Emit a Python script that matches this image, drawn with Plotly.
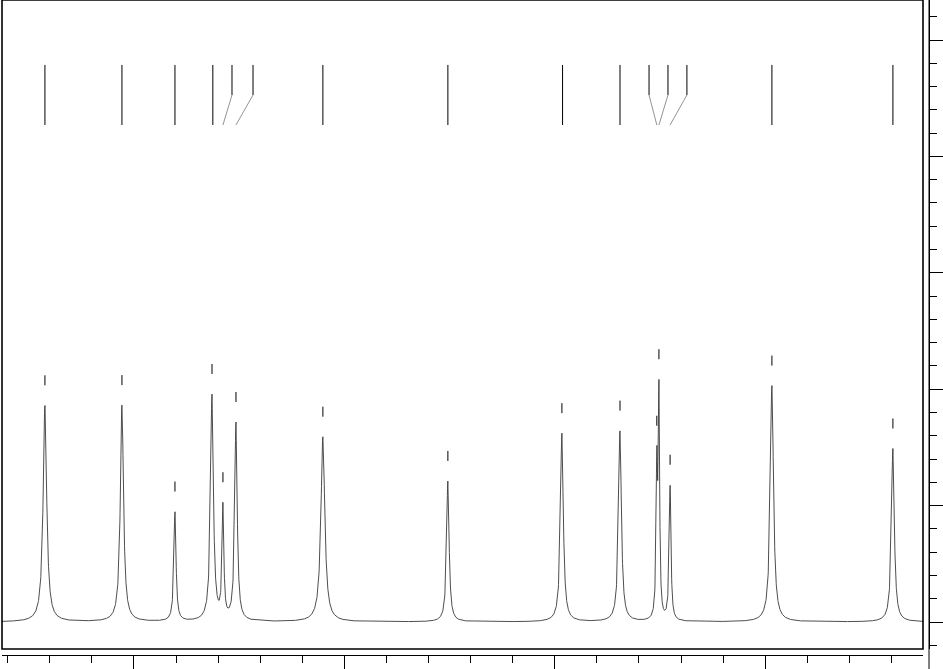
import numpy as np
import plotly.graph_objects as go

# peak positions (ppm), heights (arb. units above baseline) and half-widths (ppm)
peak_ppm = [4.423, 4.057, 3.805, 3.629, 3.577, 3.515, 3.102, 2.508,
            1.966, 1.690, 1.515, 1.505, 1.452, 0.968, 0.393]
peak_height = [9.3, 9.3, 4.7, 9.7, 4.8, 8.5, 7.95, 6.05,
               8.1, 8.2, 6.2, 9.5, 5.8, 10.15, 7.45]
peak_hwhm = [0.010, 0.009, 0.006, 0.008, 0.005, 0.007, 0.011, 0.007,
             0.008, 0.008, 0.004, 0.004, 0.005, 0.009, 0.008]

# label marker positions at the top (ppm) and the peak each points to
label_ppm = [4.423, 4.057, 3.805, 3.625, 3.534, 3.434, 3.102, 2.508,
             1.963, 1.690, 1.552, 1.462, 1.372, 0.968, 0.393]
label_peak = [0, 1, 2, 3, 4, 5, 6, 7, 8, 9, 10, 11, 12, 13, 14]

x_range = [4.627, 0.250]
y_range = [-1.16, 26.72]

ppm = np.linspace(x_range[1], x_range[0], 6000)
spec = np.zeros_like(ppm)
for p, h, w in zip(peak_ppm, peak_height, peak_hwhm):
    spec += h / (1 + ((ppm - p) / w) ** 2)


def spec_at(p):
    return float(sum(h / (1 + ((p - c) / w) ** 2)
                     for c, h, w in zip(peak_ppm, peak_height, peak_hwhm)))


fig = go.Figure()

fig.add_trace(go.Scatter(
    x=ppm, y=spec, mode='lines',
    line=dict(color='#3a3a3a', width=0.9),
    hoverinfo='skip'
))

# short tick above each peak
tx, ty = [], []
for p in peak_ppm:
    top = spec_at(p)
    tx += [p, p, None]
    ty += [top + 0.86, top + 1.29, None]
fig.add_trace(go.Scatter(x=tx, y=ty, mode='lines',
                         line=dict(color='black', width=1), hoverinfo='skip'))

# label lines at top: vertical part, then slanted to peak
vx, vy, sx, sy = [], [], [], []
for lp, pi in zip(label_ppm, label_peak):
    target = peak_ppm[pi]
    if abs(lp - target) < 0.01:
        vx += [lp, lp, None]
        vy += [23.93, 21.35, None]
    else:
        vx += [lp, lp, None]
        vy += [23.93, 22.64, None]
        sx += [lp, target, None]
        sy += [22.64, 21.35, None]
fig.add_trace(go.Scatter(x=vx, y=vy, mode='lines',
                         line=dict(color='black', width=1), hoverinfo='skip'))
fig.add_trace(go.Scatter(x=sx, y=sy, mode='lines',
                         line=dict(color='#777777', width=0.8), hoverinfo='skip'))

W, H = 943, 669
plot_w = W - 2 - 14
plot_h = H - 14

fig.update_layout(
    width=W, height=H,
    margin=dict(l=2, r=14, t=0, b=14, autoexpand=False),
    plot_bgcolor='white', paper_bgcolor='white',
    showlegend=False,
    xaxis=dict(
        domain=[0, 921 / plot_w], range=x_range, anchor='free', position=0,
        automargin=False,
        showgrid=False, zeroline=False, showline=True, linecolor='black', linewidth=1.3,
        ticks='outside', tickcolor='black', ticklen=14, tickwidth=1,
        tick0=0, dtick=1, showticklabels=False,
        minor=dict(ticks='outside', ticklen=7, tickcolor='black', tickwidth=1, dtick=0.2)
    ),
    yaxis=dict(
        domain=[6 / plot_h, 1], range=y_range, anchor='free', position=1, side='right',
        automargin=False,
        showgrid=False, zeroline=False, showline=True, linecolor='black', linewidth=1,
        ticks='outside', tickcolor='black', ticklen=14, tickwidth=1,
        tick0=0, dtick=5, showticklabels=False,
        minor=dict(ticks='outside', ticklen=7, tickcolor='black', tickwidth=1, dtick=1)
    ),
    shapes=[
        dict(type='rect', xref='x domain', yref='y domain', x0=0, x1=1, y0=0, y1=1,
             line=dict(color='black', width=1.6)),
        dict(type='line', xref='paper', yref='paper', x0=1, x1=1, y0=-14 / plot_h, y1=1,
             line=dict(color='black', width=1)),
    ],
)

# drop the default page margin so the figure sits at the window corner
fig.write_html("out.html", config={'displayModeBar': False},
               post_script="document.body.style.margin='0';")
